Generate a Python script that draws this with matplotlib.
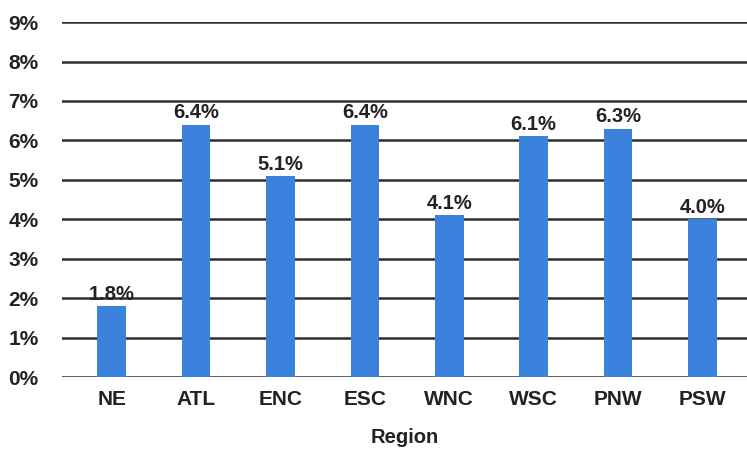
import matplotlib.pyplot as plt
from matplotlib.ticker import FuncFormatter

regions = ['NE', 'ATL', 'ENC', 'ESC', 'WNC', 'WSC', 'PNW', 'PSW']
rates = [1.8, 6.4, 5.1, 6.4, 4.1, 6.1, 6.3, 4.0]

plt.rcParams['font.family'] = ['Liberation Sans', 'DejaVu Sans']
plt.rcParams['font.weight'] = 'bold'

fig = plt.figure(figsize=(7.47, 4.5), dpi=100)
ax = fig.add_axes([0.083, 0.162, 0.917, 0.789])

x = range(len(regions))
ax.bar(x, rates, width=0.34, color='#3b82dc', zorder=3)

for xi, v in zip(x, rates):
    ax.text(xi, v + 0.06, f'{v:.1f}%', ha='center', va='bottom',
            fontsize=14.5, fontweight='bold', color='#222222')

ax.set_ylim(0, 9)
ax.set_xlim(-0.59, 7.53)
ax.set_yticks(range(0, 10))
ax.yaxis.set_major_formatter(FuncFormatter(lambda v, p: f'{int(v)}%'))
ax.set_xticks(list(x))
ax.set_xticklabels(regions)
ax.tick_params(axis='both', length=0, labelsize=15, colors='#222222')
ax.tick_params(axis='y', pad=17)
ax.tick_params(axis='x', pad=9)
for lab in ax.get_xticklabels() + ax.get_yticklabels():
    lab.set_fontweight('bold')

ax.grid(axis='y', color='#2e2e2e', linewidth=1.8, zorder=0)
ax.set_axisbelow(True)
for s in ax.spines.values():
    s.set_visible(False)

ax.set_xlabel('Region', fontsize=14.5, fontweight='bold', color='#222222', labelpad=14)

fig.savefig('out.png', dpi=100)
